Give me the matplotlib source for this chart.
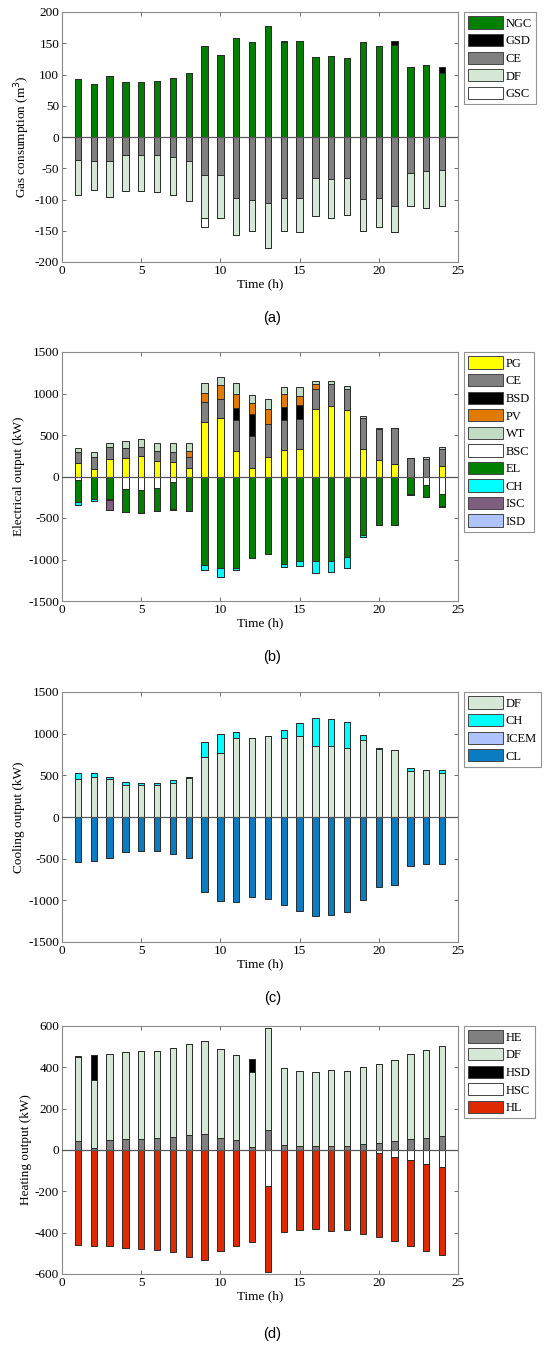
import numpy as np
import matplotlib
matplotlib.use("Agg")
import matplotlib.pyplot as plt
from matplotlib.patches import Patch

plt.rcParams["axes.unicode_minus"] = False

hours = list(range(1, 25))

# ---------- (a) Gas consumption (m3) ----------
gas_NGC = [93, 85, 97, 88, 88, 89, 94, 103, 145, 131, 158, 152, 178, 152, 153, 128, 130, 127, 152, 145, 148, 112, 115, 102]
gas_GSD = [0, 0, 0, 0, 0, 0, 0, 0, 0, 0, 0, 0, 0, 1, 0, 0, 0, 0, 0, 0, 6, 0, 0, 10]
gas_CE = [36, 39, 38, 29, 29, 29, 32, 39, 60, 61, 97, 101, 105, 97, 98, 65, 67, 65, 99, 98, 110, 57, 55, 52]
gas_DF = [57, 45, 58, 58, 58, 59, 60, 63, 70, 68, 60, 49, 72, 53, 54, 61, 62, 60, 51, 46, 42, 54, 58, 58]
gas_GSC = [0, 0, 0, 0, 0, 0, 0, 0, 14, 0, 0, 0, 0, 0, 0, 0, 0, 0, 0, 0, 0, 0, 0, 0]

# ---------- (b) Electrical output (kW) ----------
el_PG = [168, 88, 208, 220, 244, 192, 172, 104, 660, 700, 304, 100, 232, 316, 328, 808, 852, 800, 328, 196, 148, 0, 0, 128]
el_CE = [132, 144, 144, 120, 108, 120, 120, 136, 236, 232, 372, 388, 396, 364, 360, 248, 260, 260, 376, 380, 432, 220, 208, 200]
el_BSD = [0, 0, 0, 0, 0, 0, 0, 0, 0, 0, 144, 260, 0, 156, 168, 0, 0, 0, 0, 0, 0, 0, 0, 0]
el_PV = [0, 0, 0, 0, 0, 0, 0, 64, 116, 172, 180, 132, 188, 160, 112, 64, 0, 0, 0, 0, 0, 0, 0, 0]
el_WT = [48, 60, 56, 84, 96, 96, 108, 104, 120, 96, 124, 96, 112, 88, 112, 36, 36, 32, 28, 12, 0, 0, 32, 32]
el_BSC = [40, 0, 0, 148, 164, 140, 72, 0, 0, 0, 0, 0, 0, 0, 0, 0, 0, 0, 0, 0, 0, 0, 108, 208]
el_EL = [272, 272, 272, 276, 276, 272, 316, 412, 1064, 1100, 1100, 984, 932, 1052, 1024, 1024, 1016, 972, 708, 588, 588, 212, 140, 148]
el_CH = [32, 24, 8, 8, 0, 0, 12, 0, 68, 108, 24, 0, 0, 40, 60, 140, 140, 128, 24, 0, 0, 8, 0, 12]
el_ISC = [0, 0, 128, 0, 0, 0, 0, 0, 0, 0, 0, 0, 0, 0, 0, 0, 0, 0, 0, 0, 0, 0, 0, 0]
el_ISD = [0] * 24

# ---------- (c) Cooling output (kW) ----------
co_DF = [456, 476, 452, 380, 380, 380, 404, 468, 724, 764, 952, 948, 968, 952, 976, 848, 856, 832, 928, 816, 800, 552, 568, 524]
co_CH = [76, 48, 32, 36, 24, 24, 36, 12, 172, 232, 68, 4, 8, 92, 152, 336, 316, 304, 56, 16, 0, 36, 0, 44]
co_ICEM = [0] * 24
co_CL = [540, 524, 492, 420, 408, 408, 444, 488, 900, 1008, 1024, 960, 988, 1052, 1128, 1188, 1176, 1136, 992, 836, 812, 592, 568, 568]

# ---------- (d) Heating output (kW) ----------
he_HE = [44, 10, 48, 53, 55, 58, 63, 73, 76, 60, 47, 16, 98, 24, 19, 19, 21, 19, 29, 35, 42, 53, 60, 68]
he_DF = [406, 329, 415, 420, 422, 423, 431, 442, 451, 427, 413, 363, 491, 371, 365, 358, 366, 363, 374, 380, 395, 410, 422, 437]
he_HSD = [5, 122, 0, 0, 0, 0, 0, 0, 0, 0, 0, 60, 0, 0, 0, 0, 0, 0, 0, 0, 0, 0, 0, 0]
he_HSC = [0, 0, 0, 0, 0, 0, 0, 0, 0, 0, 0, 0, 173, 0, 0, 0, 0, 0, 0, 16, 34, 50, 66, 82]
he_HL = [460, 463, 465, 473, 479, 484, 494, 518, 531, 490, 463, 444, 419, 398, 389, 382, 392, 385, 406, 403, 408, 415, 421, 424]

# colours
C_GREEN = "#007f00"
C_GRAY = "#808080"
C_DF = "#d5e8d6"
C_WT = "#c2dcc4"
C_BLACK = "#000000"
C_WHITE = "#ffffff"
C_YELLOW = "#ffff00"
C_ORANGE = "#e07b00"
C_CYAN = "#00ffff"
C_PURPLE = "#7f5f7f"
C_LBLUE = "#afc3ff"
C_BLUE = "#0a7cc1"
C_RED = "#de2a00"

SERIF = ["Liberation Serif", "DejaVu Serif"]
SANS = ["Liberation Sans", "DejaVu Sans"]

W, H = 545, 1345
fig = plt.figure(figsize=(W / 100, H / 100), dpi=100)

def ax_rect(top_px, bot_px):
    return [62 / W, 1 - bot_px / H, 396 / W, (bot_px - top_px) / H]

BW = 0.4
EDGE = "#2a2a2a"
LW = 0.7

def stack(ax, pos, neg):
    x = np.array(hours)
    base = np.zeros(24)
    for vals, col in pos:
        v = np.array(vals, dtype=float)
        ax.bar(x, v, BW, bottom=base, color=col, edgecolor=EDGE, linewidth=LW, zorder=3)
        base = base + v
    base = np.zeros(24)
    for vals, col in neg:
        v = np.array(vals, dtype=float)
        ax.bar(x, -v, BW, bottom=base, color=col, edgecolor=EDGE, linewidth=LW, zorder=3)
        base = base - v

def style(ax, ylim, yticks, ylabel, legend_items, letter, letter_y):
    ax.set_xlim(0, 25)
    ax.set_ylim(*ylim)
    ax.set_xticks([0, 5, 10, 15, 20, 25])
    ax.set_yticks(yticks)
    ax.tick_params(direction="in", top=True, right=True, length=3, width=0.6,
                   color="#555555", labelsize=9.5, pad=2)
    for lab in ax.get_xticklabels() + ax.get_yticklabels():
        lab.set_family(SERIF)
    for s in ax.spines.values():
        s.set_color("#8a8a8a")
        s.set_linewidth(0.8)
    ax.axhline(0, color="#555555", linewidth=0.9, zorder=4)
    ax.set_ylabel(ylabel, family=SERIF, fontsize=9.5, labelpad=2)
    ax.set_xlabel("Time (h)", family=SERIF, fontsize=9.5, labelpad=1)
    handles = [Patch(facecolor=c, edgecolor="#444444", linewidth=0.7, label=l) for l, c in legend_items]
    leg = ax.legend(handles=handles, loc="upper left", bbox_to_anchor=(1.015, 1.0),
                    prop={"family": SERIF, "size": 9}, frameon=True, fancybox=False,
                    handlelength=2.8, handleheight=1.15, handletextpad=0.2,
                    labelspacing=0.33, borderpad=0.35, borderaxespad=0.0)
    leg.get_frame().set_edgecolor("#777777")
    leg.get_frame().set_linewidth(0.8)
    fig.text(0.5, 1 - letter_y / H, letter, ha="center", va="center",
             family=SANS, fontsize=10.5)

# (a)
ax1 = fig.add_axes(ax_rect(12, 262))
stack(ax1, [(gas_NGC, C_GREEN), (gas_GSD, C_BLACK)],
      [(gas_CE, C_GRAY), (gas_DF, C_DF), (gas_GSC, C_WHITE)])
style(ax1, (-200, 200), range(-200, 201, 50), "Gas consumption (m$^3$)",
      [("NGC", C_GREEN), ("GSD", C_BLACK), ("CE", C_GRAY), ("DF", C_DF), ("GSC", C_WHITE)],
      "(a)", 318)

# (b)
ax2 = fig.add_axes(ax_rect(352, 601))
stack(ax2, [(el_PG, C_YELLOW), (el_CE, C_GRAY), (el_BSD, C_BLACK), (el_PV, C_ORANGE), (el_WT, C_WT)],
      [(el_BSC, C_WHITE), (el_EL, C_GREEN), (el_CH, C_CYAN), (el_ISC, C_PURPLE), (el_ISD, C_LBLUE)])
style(ax2, (-1500, 1500), range(-1500, 1501, 500), "Electrical output (kW)",
      [("PG", C_YELLOW), ("CE", C_GRAY), ("BSD", C_BLACK), ("PV", C_ORANGE), ("WT", C_WT),
       ("BSC", C_WHITE), ("EL", C_GREEN), ("CH", C_CYAN), ("ISC", C_PURPLE), ("ISD", C_LBLUE)],
      "(b)", 657)

# (c)
ax3 = fig.add_axes(ax_rect(692, 942))
stack(ax3, [(co_DF, C_DF), (co_CH, C_CYAN), (co_ICEM, C_LBLUE)],
      [(co_CL, C_BLUE)])
style(ax3, (-1500, 1500), range(-1500, 1501, 500), "Cooling output (kW)",
      [("DF", C_DF), ("CH", C_CYAN), ("ICEM", C_LBLUE), ("CL", C_BLUE)],
      "(c)", 998)

# (d)
ax4 = fig.add_axes(ax_rect(1026, 1274))
stack(ax4, [(he_HE, C_GRAY), (he_DF, C_DF), (he_HSD, C_BLACK)],
      [(he_HSC, C_WHITE), (he_HL, C_RED)])
style(ax4, (-600, 600), range(-600, 601, 200), "Heating output (kW)",
      [("HE", C_GRAY), ("DF", C_DF), ("HSD", C_BLACK), ("HSC", C_WHITE), ("HL", C_RED)],
      "(d)", 1334)

fig.savefig("out.png", dpi=100)
